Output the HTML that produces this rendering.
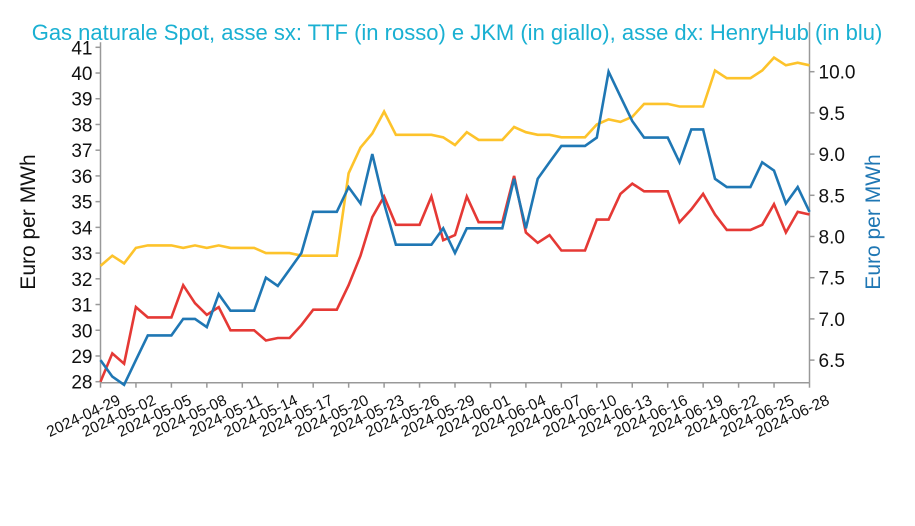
<!DOCTYPE html>
<html><head><meta charset="utf-8"><style>
body{margin:0;background:#fff;width:915px;height:521px;overflow:hidden}
svg text{font-family:"Liberation Sans",sans-serif}
</style></head><body>
<svg id="chart" width="915" height="521" viewBox="0 0 915 521">
<text x="457" y="40" text-anchor="middle" font-size="22" fill="#1ab0d2">Gas naturale Spot, asse sx: TTF (in rosso) e JKM (in giallo), asse dx: HenryHub (in blu)</text>
<text transform="translate(35,222) rotate(-90)" text-anchor="middle" font-size="21" fill="#111">Euro per MWh</text>
<text transform="translate(880,222) rotate(-90)" text-anchor="middle" font-size="21" fill="#1f77b4">Euro per MWh</text>
<g id="axes"></g>
<g id="series"></g>
</svg>
<script>
const startDate = "2024-04-29";
const ttf = [28.0,29.1,28.7,30.9,30.5,30.5,30.5,31.75,31.05,30.6,30.9,30.0,30.0,30.0,29.6,29.7,29.7,30.2,30.8,30.8,30.8,31.75,32.9,34.4,35.2,34.1,34.1,34.1,35.2,33.5,33.7,35.2,34.2,34.2,34.2,36.0,33.8,33.4,33.7,33.1,33.1,33.1,34.3,34.3,35.3,35.7,35.4,35.4,35.4,34.2,34.7,35.3,34.5,33.9,33.9,33.9,34.1,34.9,33.8,34.6,34.5];
const jkm = [32.5,32.9,32.6,33.2,33.3,33.3,33.3,33.2,33.3,33.2,33.3,33.2,33.2,33.2,33.0,33.0,33.0,32.9,32.9,32.9,32.9,36.1,37.1,37.65,38.5,37.6,37.6,37.6,37.6,37.5,37.2,37.7,37.4,37.4,37.4,37.9,37.7,37.6,37.6,37.5,37.5,37.5,38.0,38.2,38.1,38.3,38.8,38.8,38.8,38.7,38.7,38.7,40.1,39.8,39.8,39.8,40.1,40.6,40.3,40.4,40.3];
const henryHub = [6.5,6.3,6.2,6.5,6.8,6.8,6.8,7.0,7.0,6.9,7.3,7.1,7.1,7.1,7.5,7.4,7.6,7.8,8.3,8.3,8.3,8.6,8.4,9.0,8.4,7.9,7.9,7.9,7.9,8.1,7.8,8.1,8.1,8.1,8.1,8.7,8.1,8.7,8.9,9.1,9.1,9.1,9.2,10.0,9.7,9.4,9.2,9.2,9.2,8.9,9.3,9.3,8.7,8.6,8.6,8.6,8.9,8.8,8.4,8.6,8.3];
const leftTicks = [28,29,30,31,32,33,34,35,36,37,38,39,40,41];
const rightTicks = [6.5,7.0,7.5,8.0,8.5,9.0,9.5,10.0];

const X0=100.5, X1=809.5, Y0=381.7, YT=47.3;
const nDays = ttf.length;
const x = i => X0 + (X1-X0)*i/(nDays-1);
const yL = v => Y0 - (v-28)*(Y0-YT)/13;
const yR = v => 71.7 + (10-v)*82.4;
const NS="http://www.w3.org/2000/svg";
const axes=document.getElementById('axes'), series=document.getElementById('series');
function mk(tag,attrs,parent){const e=document.createElementNS(NS,tag);for(const k in attrs)e.setAttribute(k,attrs[k]);parent.appendChild(e);return e;}

let ln=mk('line',{x1:X0,y1:YT-5,x2:X0,y2:Y0+1,stroke:'#999','stroke-width':1.5},axes);


ln=mk('line',{x1:X1,y1:YT-25,x2:X1,y2:Y0+1,stroke:'#999','stroke-width':1.5},axes);


ln=mk('line',{x1:X0,y1:Y0+1,x2:X1,y2:Y0+1,stroke:'#999','stroke-width':1.5},axes);



leftTicks.forEach(v=>{
  mk('line',{x1:X0-5,y1:yL(v),x2:X0,y2:yL(v),stroke:'#999','stroke-width':1.5},axes);
  const t=mk('text',{x:X0-8,y:yL(v)+7,'text-anchor':'end','font-size':19,fill:'#111'},axes);
  t.textContent=String(v);
  
  
});
rightTicks.forEach(v=>{
  mk('line',{x1:X1,y1:yR(v),x2:X1+5,y2:yR(v),stroke:'#999','stroke-width':1.5},axes);
  const t=mk('text',{x:X1+9,y:yR(v)+7,'font-size':19,fill:'#111'},axes);
  t.textContent=v.toFixed(1);
  
  
});
const sd=new Date(startDate+"T00:00:00Z");
for(let i=0;i<nDays;i+=3){
  mk('line',{x1:x(i),y1:Y0+1,x2:x(i),y2:Y0+6,stroke:'#999','stroke-width':1.5},axes);
  const d=new Date(sd.getTime()+i*86400000);
  const t=mk('text',{transform:`translate(${x(i)+21},${Y0+22}) rotate(-25)`,'text-anchor':'end','font-size':15.5,fill:'#111','font-family':'DejaVu Sans, sans-serif'},axes);
  t.textContent=d.toISOString().slice(0,10);
  
  
}
function line(data,yf,color,name){
  const p=mk('polyline',{points:data.map((v,i)=>x(i).toFixed(1)+','+yf(v).toFixed(1)).join(' '),fill:'none',stroke:color,'stroke-width':2.6,'stroke-linejoin':'miter'},series);
  
  
}
line(jkm,yL,'#fdc32b','jkm-line');
line(ttf,yL,'#e53935','ttf-line');
line(henryHub,yR,'#1f77b4','henryhub-line');
</script>
</body></html>
